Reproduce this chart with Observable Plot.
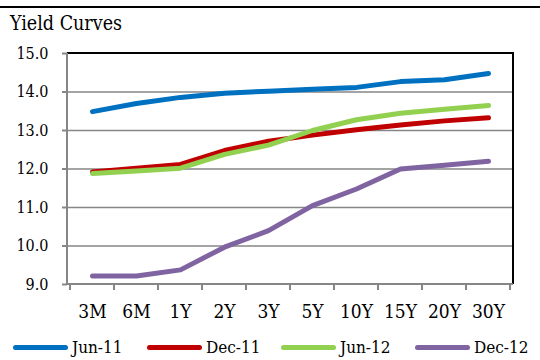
<!DOCTYPE html>
<html>
<head>
<meta charset="utf-8">
<script src="https://cdn.jsdelivr.net/npm/d3@7"></script>
<script src="https://cdn.jsdelivr.net/npm/@observablehq/plot@0.6"></script>
<style>
  body { margin: 0; background: #fff; }
  #fig { position: relative; width: 540px; height: 360px; overflow: hidden; font-family: "DejaVu Serif Condensed", "Liberation Serif", serif; color: #000; background: #fff; }
  #fig .rule { position: absolute; left: 0; top: 6px; width: 540px; height: 2px; background: #000; }
  #fig .title { position: absolute; left: 10px; top: 14px; font-size: 19.5px; line-height: 20px; white-space: nowrap; }
  #chart { position: absolute; left: 0; top: 40px; }
  #fig .legend { position: absolute; left: 13px; top: 334px; display: flex; }
  #fig .item { width: 134px; display: flex; align-items: center; }
  #fig .swatch { width: 55px; height: 5px; border-radius: 3px; margin-right: 4px; }
  #fig .label { font-size: 17px; line-height: 26px; white-space: nowrap; }
</style>
</head>
<body>
<div id="fig">
  <div class="rule"></div>
  <div class="title">Yield Curves</div>
  <div id="chart"></div>
  <div class="legend" id="legend"></div>
</div>
<script>
// Maturities along the curve
const tenors = ["3M", "6M", "1Y", "2Y", "3Y", "5Y", "10Y", "15Y", "20Y", "30Y"];

// Yields (%) at each maturity, one array per curve date
const jun11 = [13.49, 13.70, 13.86, 13.97, 14.02, 14.07, 14.12, 14.27, 14.32, 14.48];
const dec11 = [11.92, 12.02, 12.12, 12.48, 12.72, 12.88, 13.02, 13.14, 13.25, 13.33];
const jun12 = [11.88, 11.95, 12.02, 12.38, 12.62, 13.00, 13.28, 13.45, 13.55, 13.65];
const dec12 = [9.22, 9.22, 9.38, 9.97, 10.40, 11.05, 11.48, 12.00, 12.10, 12.20];

const seriesNames = ["Jun-11", "Dec-11", "Jun-12", "Dec-12"];
const seriesColors = ["#0070C0", "#C00000", "#92D050", "#8064A2"];
const yTicks = [9, 10, 11, 12, 13, 14, 15];

const rows = [jun11, dec11, jun12, dec12].flatMap((vals, s) =>
  vals.map((v, i) => ({series: seriesNames[s], tenor: tenors[i], value: v}))
);

const gray = "#868686";
const fontStack = "'DejaVu Serif Condensed', 'Liberation Serif', serif";

// Plot-area border (black top/right, gray left/bottom) plus tick marks between categories
function plotFrame(index, scales) {
  const {x, y} = scales;
  const [x0, x1] = x.range();
  const [yb, yt] = y.range();
  const g = d3.create("svg:g").attr("fill", "none");
  g.append("path").attr("d", `M${x0},${yt}H${x1}V${yb}`).attr("stroke", "#000").attr("stroke-width", 2);
  g.append("path").attr("d", `M${x0},${yt}V${yb}H${x1}`).attr("stroke", gray).attr("stroke-width", 2);
  const bounds = tenors.map(t => x(t)).concat([x(tenors[tenors.length - 1]) + x.bandwidth()]);
  g.selectAll("line").data(bounds).join("line")
    .attr("x1", d => d).attr("x2", d => d)
    .attr("y1", yb).attr("y2", yb + 6)
    .attr("stroke", gray).attr("stroke-width", 2);
  return g.node();
}

const chart = Plot.plot({
  width: 540,
  height: 290,
  marginTop: 13,
  marginBottom: 46,
  marginLeft: 67,
  marginRight: 27,
  style: {fontFamily: fontStack, background: "transparent", color: "#000"},
  x: {type: "band", domain: tenors, padding: 0, tickSize: 0, tickPadding: 20, label: null},
  y: {domain: [9, 15], ticks: yTicks, tickFormat: d3.format(".1f"), tickSize: 5, tickPadding: 14, label: null},
  color: {domain: seriesNames, range: seriesColors},
  marks: [
    Plot.ruleY(yTicks.slice(1, -1), {stroke: gray, strokeWidth: 1.3}),
    plotFrame,
    Plot.line(rows, {
      x: "tenor", y: "value", z: "series", stroke: "series",
      strokeWidth: 5, strokeLinecap: "round", strokeLinejoin: "round"
    })
  ]
});

// Axis text sizes and tick colour
chart.querySelectorAll('[aria-label^="x-axis"] text').forEach(t => { t.style.fontSize = "19px"; });
chart.querySelectorAll('[aria-label^="y-axis"] text').forEach(t => { t.style.fontSize = "16px"; });
chart.querySelectorAll('[aria-label^="y-axis"] line, [aria-label^="y-axis"] path').forEach(l => {
  l.setAttribute("stroke", gray); l.style.stroke = gray; l.style.strokeWidth = "2";
});

document.getElementById("chart").appendChild(chart);

// Legend below the chart
const legend = document.getElementById("legend");
seriesNames.forEach((name, i) => {
  const item = document.createElement("div");
  item.className = "item";
  const sw = document.createElement("div");
  sw.className = "swatch";
  sw.style.background = seriesColors[i];
  const lab = document.createElement("span");
  lab.className = "label";
  lab.textContent = name;
  item.append(sw, lab);
  legend.appendChild(item);
});
</script>
</body>
</html>
